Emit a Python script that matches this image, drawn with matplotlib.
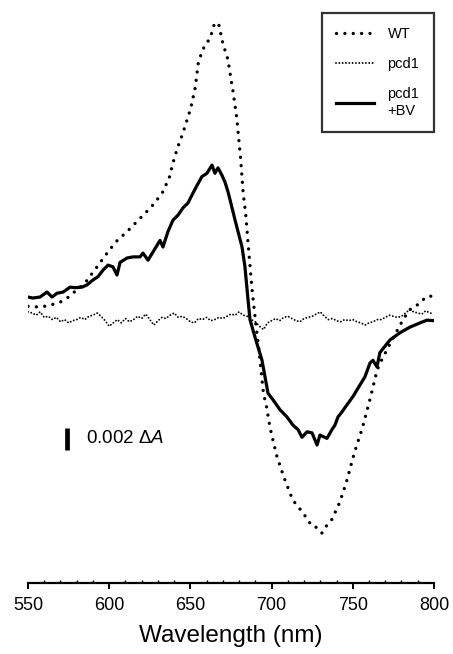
import numpy as np
import matplotlib.pyplot as plt
from matplotlib.ticker import MultipleLocator

plt.rcParams['font.family'] = ['Liberation Sans', 'DejaVu Sans']
plt.rcParams['mathtext.fontset'] = 'custom'
plt.rcParams['mathtext.rm'] = 'Liberation Sans'
plt.rcParams['mathtext.it'] = 'Liberation Sans:italic'

# difference spectra, values in 10^-3 dA
wl_wt = [550, 556, 562, 570, 575, 580, 585, 588, 594, 600, 605, 611, 617, 623,
         628, 633, 637, 639, 642, 645, 650, 653, 655, 659, 662, 665, 667.5, 670,
         673, 676, 678.5, 680, 681, 682.5, 684, 686, 688, 690, 692, 695, 697, 699,
         703, 707.5, 713, 719, 725, 728, 731, 734, 737, 742, 746, 751, 756, 760.5,
         765, 767, 774, 781, 785, 788, 791, 795.5, 800]
wt = [0.6, 0.55, 0.64, 1.0, 1.45, 2.1, 2.7, 3.3, 4.5, 5.7, 6.6, 7.4, 8.3, 9.2,
      10.0, 11.0, 12.3, 13.5, 15.0, 16.2, 18.5, 20.5, 22.9, 24.4, 24.9, 26.4, 26.2, 24.5,
      23.1, 20.4, 17.8, 15.5, 13.9, 10.9, 9.1, 5.5, 2.1, -0.6, -3.1, -7.3, -8.6, -10.4,
      -12.9, -14.9, -17.0, -18.1, -19.4, -19.5, -20.0, -19.3, -18.8, -17.2, -15.4, -12.7, -10.4, -7.9,
      -5.2, -4.5, -2.5, -0.6, 0.3, 0.5, 0.9, 1.5, 1.55]

wl_pcd1 = np.arange(550, 800.1, 2.5)
pcd1 = [0.1, 0.0, -0.2, 0.1, -0.4, -0.3, -0.6, -0.4, -0.8, -0.6,
        -0.9, -0.7, -0.6, -0.4, -0.6, -0.3, -0.2, 0.0, -0.3, -0.7,
        -1.2, -0.9, -0.6, -0.9, -0.5, -0.8, -0.6, -0.3, -0.5, -0.1,
        -0.6, -1.1, -0.7, -0.4, -0.5, -0.2, 0.0, -0.4, -0.3, -0.5,
        -0.8, -0.9, -0.5, -0.6, -0.4, -0.7, -0.6, -0.4, -0.5, -0.3,
        -0.1, -0.2, 0.1, -0.2, -0.3, -0.6, -0.8, -1.2, -1.5, -0.9,
        -0.7, -0.5, -0.7, -0.4, -0.3, -0.5, -0.7, -0.8, -0.5, -0.4,
        -0.3, -0.1, 0.1, -0.3, -0.6, -0.5, -0.7, -0.8, -0.6, -0.7,
        -0.6, -0.8, -0.9, -1.1, -0.9, -0.8, -0.6, -0.6, -0.4, -0.2,
        -0.3, -0.4, -0.3, 0.0, 0.3, 0.1, 0.0, -0.1, 0.2, 0.0,
        -0.1]

wl_bv = [550, 553, 557.4, 561.7, 564.8, 567.9, 571.6, 575.9, 579, 583.3, 586.3, 590,
         593.1, 596.2, 599.3, 602.3, 604.8, 606.7, 611, 614.7, 619, 620.8, 623.9, 627,
         631.3, 633.1, 636.2, 639.3, 642.4, 645.4, 648.5, 651.6, 654.1, 657.1, 660.2,
         663.3, 665.1, 667, 669.5, 671.3, 673.2, 674.4, 677.5, 681.8, 683.6, 685.5,
         686.7, 689.8, 694.1, 697.8, 700.9, 705.2, 709.5, 713.2, 716.3, 718.7, 721.8,
         724.9, 728, 729.8, 734.1, 737.2, 739, 740.9, 743.3, 746.4, 750.1, 754.4,
         757.5, 760.6, 762.4, 764.9, 766.7, 772.9, 779, 785, 791.4, 795.7, 800]
bv = [1.45, 1.36, 1.45, 1.9, 1.45, 1.8, 1.9, 2.35, 2.3, 2.35, 2.55, 3.0,
      3.3, 3.9, 4.35, 4.2, 3.45, 4.6, 5.0, 5.1, 5.1, 5.45, 4.8, 5.55,
      6.6, 6.0, 7.4, 8.45, 8.9, 9.55, 10.0, 10.9, 11.6, 12.4, 12.7,
      13.45, 12.7, 13.2, 12.5, 11.9, 11.0, 10.3, 8.45, 6.0, 4.2, 1.2,
      -0.6, -2.2, -4.3, -7.3, -7.9, -8.8, -9.45, -10.2, -10.6, -11.3, -10.8,
      -10.9, -12.0, -11.1, -11.4, -10.6, -10.2, -9.45, -9.0, -8.35, -7.6, -6.55,
      -5.8, -4.55, -4.3, -4.9, -3.6, -2.45, -1.8, -1.3, -0.9, -0.65, -0.7]

fig = plt.figure(figsize=(4.53, 6.54), dpi=100)
ax = fig.add_axes([0.0618, 0.1086, 0.8962, 0.8914])

ax.plot(wl_wt, wt, color='black', lw=2.4, linestyle=(0, (0.01, 2.5)),
        dash_capstyle='round', label='WT')
ax.plot(wl_pcd1, pcd1, color='black', lw=1.4, linestyle=(0, (0.01, 1.7)),
        dash_capstyle='round', label='pcd1')
ax.plot(wl_bv, bv, color='black', lw=2.3, label='pcd1\n+BV')

# scale bar
ax.plot([574, 574], [-10.45, -12.45], color='black', lw=3.4, solid_capstyle='butt')
ax.text(586, -11.45, r'0.002 Δ$\mathit{A}$', fontsize=13.5, va='center', ha='left')

ax.set_xlim(550, 800)
ax.set_ylim(-24.545, 28.4545)
ax.xaxis.set_major_locator(MultipleLocator(50))
ax.xaxis.set_minor_locator(MultipleLocator(10))
ax.tick_params(axis='x', which='major', direction='out', length=4, width=1.4,
               labelsize=13, pad=6)
ax.tick_params(axis='x', which='minor', direction='in', length=2, width=1)
ax.set_yticks([])
for s in ['left', 'right', 'top']:
    ax.spines[s].set_visible(False)
ax.spines['bottom'].set_linewidth(1.6)
ax.set_xlabel('Wavelength (nm)', fontsize=17.5, labelpad=8)

leg = ax.legend(loc='upper right', bbox_to_anchor=(1.0, 0.978), borderaxespad=0,
                fontsize=10.5, fancybox=False, frameon=True, edgecolor='black',
                handlelength=2.6, handletextpad=0.9, borderpad=1.0, labelspacing=1.1)
leg.get_frame().set_linewidth(1.6)

fig.savefig('out.png', dpi=100)
